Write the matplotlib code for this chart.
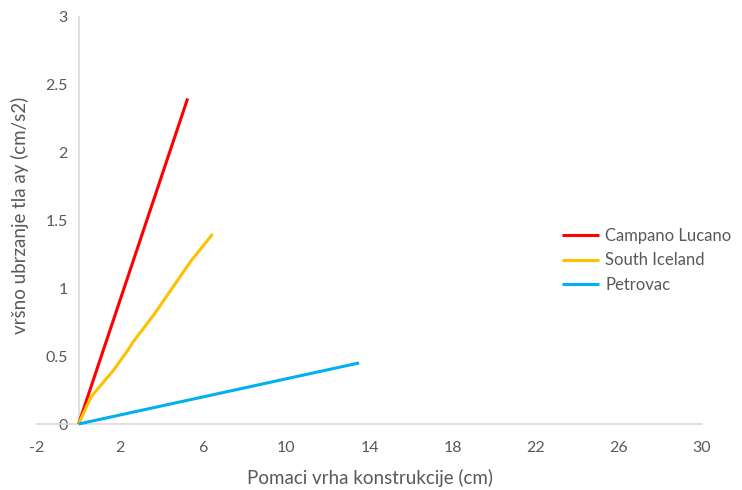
import matplotlib.pyplot as plt

# values
campano_x = [0, 5.25]
campano_y = [0, 2.4]

iceland_x = [0, 0.6, 1.7, 2.4, 2.6, 3.6, 4.5, 5.4, 6.45]
iceland_y = [0, 0.2, 0.4, 0.55, 0.6, 0.8, 1.0, 1.2, 1.4]

petrovac_x = [0, 13.5]
petrovac_y = [0, 0.45]

x_ticks = [-2, 2, 6, 10, 14, 18, 22, 26, 30]
y_ticks = [0, 0.5, 1, 1.5, 2, 2.5, 3]
y_tick_labels = ['0', '0.5', '1', '1.5', '2', '2.5', '3']

plt.rcParams['font.family'] = ['Lato', 'DejaVu Sans']
plt.rcParams['axes.unicode_minus'] = False
grey = '#595959'
axis_col = '#d9d9d9'

fig = plt.figure(figsize=(7.42, 4.9), dpi=100)
ax = fig.add_axes([37 / 742, 66 / 490, 665 / 742, 407 / 490])

ax.plot(campano_x, campano_y, color='#ff0000', lw=2.2, label='Campano Lucano',
        clip_on=False, zorder=5, solid_capstyle='butt')
ax.plot(iceland_x, iceland_y, color='#ffc000', lw=2.2, label='South Iceland',
        clip_on=False, zorder=5, solid_capstyle='butt')
ax.plot(petrovac_x, petrovac_y, color='#00b0f0', lw=2.2, label='Petrovac',
        clip_on=False, zorder=5, solid_capstyle='butt')

ax.set_xlim(-2, 30)
ax.set_ylim(0, 3)
ax.set_xticks(x_ticks)
ax.set_yticks(y_ticks)
ax.set_yticklabels(y_tick_labels)

ax.spines['top'].set_visible(False)
ax.spines['right'].set_visible(False)
ax.spines['left'].set_position(('data', 0))
ax.spines['left'].set_color(axis_col)
ax.spines['bottom'].set_color(axis_col)
ax.spines['left'].set_linewidth(1.2)
ax.spines['bottom'].set_linewidth(1.2)
ax.tick_params(axis='both', length=0, labelsize=11.5, labelcolor=grey)
ax.tick_params(axis='x', pad=12)
ax.tick_params(axis='y', pad=8)

fig.text(370 / 742, 12 / 490, 'Pomaci vrha konstrukcije (cm)', ha='center', va='center',
         fontsize=13.5, color=grey)
fig.text(20 / 742, 275 / 490, 'vršno ubrzanje tla ay (cm/s2)', ha='center', va='center',
         rotation=90, fontsize=13.5, color=grey)

leg = fig.legend(loc='upper left', bbox_to_anchor=(562 / 742, 1 - 228 / 490), frameon=False,
                 fontsize=12, handlelength=2.2, handletextpad=0.4, labelspacing=0.5,
                 borderaxespad=0, borderpad=0)
for t in leg.get_texts():
    t.set_color(grey)

fig.savefig('out.png', dpi=100)
